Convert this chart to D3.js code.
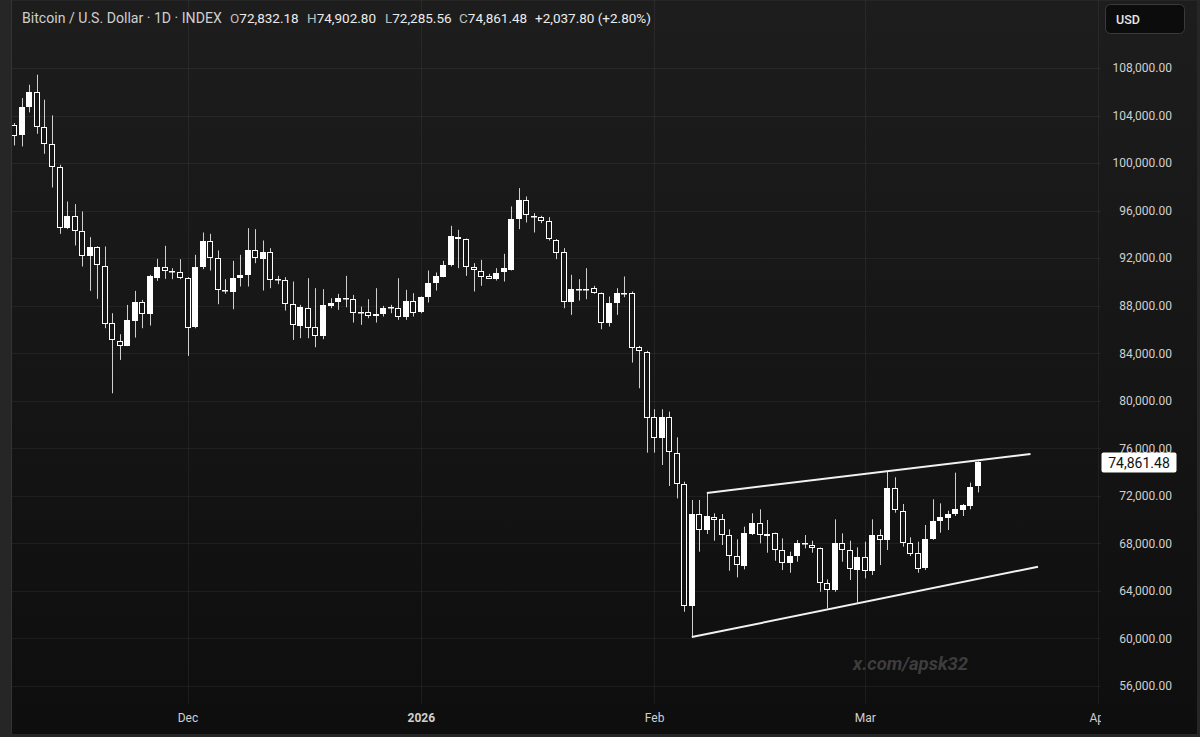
<!DOCTYPE html>
<html>
<head>
<meta charset="utf-8">
<script src="https://cdn.jsdelivr.net/npm/d3@7/dist/d3.min.js"></script>
<style>
  html, body { margin: 0; padding: 0; background: #242424; }
  svg { display: block; }
  text { font-family: Roboto, "Noto Sans", sans-serif; }
</style>
</head>
<body>
<svg id="chart" width="1200" height="737"></svg>
<script>
// ---------------- DATA ----------------
const startDay = "2025-11-08";
const endDay = "2026-03-16";
const opens = [
  103225,102299,104685,105976,103001,101597,99632,94524,95506,94243,92137,92924,91380,86524,85064,84643,86720,88292,87282,90398,91295,90931,90820,
  90371,86188,91241,93402,92000,89276,89192,90315,90539,92645,91915,92504,90175,90175,88153,86301,87789,86188,85459,88013,88265,88600,88574,87450,87507,87142,87283,87800,87844,87086,88405,
  87423,88714,89893,90455,91353,93767,93627,91241,90960,90539,90314,90792,91016,95283,96855,95563,95451,95086,93543,92476,88265,89388,89360,89472,89051,86525,88209,89051,89108,84505,84140,
  78610,76842,78610,75635,72996,62750,70500,69125,70247,70023,68704,66935,66093,68788,69742,68800,68844,67440,66374,66879,68002,67861,67581,64633,64016,68002,67440,65812,
  66879,65700,68703,68282,72633,70752,68058,67215,65896,68338,69826,70107,70472,70808,71145,72832.18
];
const highs = [
  103366,105471,106594,107436,105331,104011,99857,96769,96545,95927,93766,93000,92980,87366,85597,88068,89247,88489,90594,91941,93036,91157,91915,
  90400,92280,94160,94048,92645,90231,91774,92280,94525,94441,93487,92841,90511,90399,90034,88069,90315,89473,89389,88630,88995,90511,88911,87928,88546,89472,87985,88069,90314,89332,89051,
  88770,90960,90792,91774,94721,94385,93650,91578,91858,90680,91157,92364,96349,97893,97192,95788,95563,95451,93600,92841,90595,90230,91157,89669,89108,88770,89472,90455,89193,84617,84200,
  79284,79284,79087,76926,73192,71650,71650,72212,70528,70472,69181,68339,69405,70528,70865,69967,68900,68423,67300,68283,68704,68226,67650,64970,70023,68844,68226,67665,
  68142,70022,69180,74036,73559,71313,68506,68142,69545,71707,71370,70752,73952,71313,73110,74902.80
];
const lows = [
  101485,101401,104264,102467,100783,97948,94047,94450,93064,91295,89247,88573,86103,80629,83436,84600,85317,86103,86327,90089,90257,90231,90231,
  83775,86100,91073,90960,88125,88996,87704,89613,89613,91578,89276,89473,89810,87592,85122,85262,85262,84504,85178,87788,87648,87872,86581,86385,86946,86581,87086,87367,86806,86806,87086,
  87367,88265,89276,90398,91300,91157,90511,89192,89669,90286,90118,90034,90960,94441,95002,94160,94946,93486,91915,87788,87227,88434,88546,89000,86020,86245,87227,88714,83214,81052,75635,
  75635,74596,72828,71789,62245,60100,67300,68788,68226,67861,65700,65139,65812,68704,68002,67216,66542,65756,65531,66458,67581,67216,63931,62528,63931,66458,64914,63005,
  65054,65335,66177,67440,70584,67721,66935,65531,65756,68300,68900,69124,70303,70303,70864,72285.56
];
const closes = [
  102299,104685,105976,103001,101597,99632,94524,95506,94243,92137,92924,91380,86524,85064,84643,86804,88292,87282,90510,91295,90931,90850,90315,
  86188,91241,93402,92000,89276,89350,90371,90595,92645,92000,92504,90175,90250,88153,86385,87873,86104,85459,88069,88265,88630,88650,87367,87400,87142,87311,87788,87870,87086,88405,87423,
  88714,89893,90511,91437,93823,93599,91241,90960,90455,90314,90792,91157,95283,96855,95563,95500,95086,93543,92476,88265,89388,89360,89420,89051,86525,88209,89051,89000,84505,84140,78610,
  76842,78610,75635,72996,62750,70500,69180,70303,70023,68704,66935,66177,68844,69742,68704,68650,67384,66374,66935,68002,67950,67581,64633,64016,68002,67440,65812,66879,
  65700,68703,68282,72633,70752,68058,67159,65896,68338,69882,70191,70472,70864,71201,72773,74861.48
];
const upperTrend = [["2026-02-08", 72240], ["2026-03-23", 75524]];
const lowerTrend = [["2026-02-06", 60116], ["2026-03-24", 66035]];
const priceTicks = [56000,60000,64000,68000,72000,76000,80000,84000,88000,92000,96000,100000,104000,108000];
const timeTicks = ["2025-12-01","2026-01-01","2026-02-01","2026-03-01","2026-04-01"];
const timeTickLabels = ["Dec","2026","Feb","Mar","Apr"];
const lastPrice = 74861.48;
const headerTitle = "Bitcoin / U.S. Dollar · 1D · INDEX";
const headerItems = [["O","72,832.18"],["H","74,902.80"],["L","72,285.56"],["C","74,861.48"],["","+2,037.80 (+2.80%)"]];

// ---------------- BUILD ----------------
const parse = d3.utcParse("%Y-%m-%d");
const days = d3.utcDays(parse(startDay), d3.utcDay.offset(parse(endDay), 1));
const candles = days.map((d, i) => ({date: d, o: opens[i], h: highs[i], l: lows[i], c: closes[i]}));

const W = 1200, H = 737;
const paneL = 11, paneR = 1101, paneB = 704, bottomB = 734;

const x = d3.scaleUtc()
  .domain([parse("2025-12-01"), parse("2026-03-01")])
  .range([187.5, 864.9]);
const y = d3.scaleLinear().domain([56000, 108000]).range([686, 68]);

const svg = d3.select("#chart");
const defs = svg.append("defs");
const grad = defs.append("linearGradient").attr("id","bg").attr("x1",0).attr("y1",0).attr("x2",0).attr("y2",1);
grad.append("stop").attr("offset","0%").attr("stop-color","#1d1d1d");
grad.append("stop").attr("offset","100%").attr("stop-color","#0e0e0e");
defs.append("clipPath").attr("id","pane").append("rect")
  .attr("x", paneL + 1).attr("y", 0).attr("width", paneR - paneL - 1).attr("height", paneB);
defs.append("clipPath").attr("id","xaxisclip").append("rect")
  .attr("x", paneL + 1).attr("y", 0).attr("width", paneR - paneL - 1).attr("height", bottomB - paneB);

// outer frame + background
svg.append("rect").attr("width", W).attr("height", H).attr("fill", "#262626");
svg.append("rect").attr("x", paneL).attr("y", 1).attr("width", W - paneL - 3).attr("height", bottomB - 1)
  .attr("fill", "url(#bg)");
svg.append("line").attr("x1", paneL + 0.5).attr("x2", paneL + 0.5).attr("y1", 0).attr("y2", bottomB)
  .attr("stroke", "#333");

// grid
const grid = svg.append("g").attr("clip-path","url(#pane)");
grid.selectAll(".hg").data(priceTicks).join("line")
  .attr("x1", paneL).attr("x2", paneR)
  .attr("y1", d => Math.round(y(d)) + 0.5).attr("y2", d => Math.round(y(d)) + 0.5)
  .attr("stroke", "rgba(255,255,255,0.055)");
grid.selectAll(".vg").data(timeTicks).join("line")
  .attr("x1", d => Math.round(x(parse(d))) + 0.5).attr("x2", d => Math.round(x(parse(d))) + 0.5)
  .attr("y1", 0).attr("y2", paneB)
  .attr("stroke", "rgba(255,255,255,0.055)");

// watermark
svg.append("text").attr("x", 853).attr("y", 670)
  .attr("font-size", 18.5).attr("font-weight", 700).attr("font-style", "italic")
  .attr("fill", "#3d3d3d").text("x.com/apsk32");

// candles
const cg = svg.append("g").attr("clip-path","url(#pane)");
const g = cg.selectAll("g.c").data(candles).join("g").attr("class","c");
g.append("line")
  .attr("x1", d => Math.round(x(d.date)) + 0.5).attr("x2", d => Math.round(x(d.date)) + 0.5)
  .attr("y1", d => y(d.h)).attr("y2", d => y(d.l))
  .attr("stroke", "#cfcfcf").attr("stroke-width", 1);
g.append("rect")
  .attr("x", d => Math.round(x(d.date)) - 2.5)
  .attr("y", d => Math.round(y(Math.max(d.o, d.c))) + 0.5)
  .attr("width", 5)
  .attr("height", d => Math.max(0.5, Math.round(Math.abs(y(d.o) - y(d.c))) - 1))
  .attr("fill", d => d.c >= d.o ? "#ffffff" : "#151515")
  .attr("stroke", "#ffffff").attr("stroke-width", 1);

// trend lines
const line = d3.line().x(d => x(parse(d[0]))).y(d => y(d[1]));
[upperTrend, lowerTrend].forEach(t => {
  cg.append("path").attr("d", line(t)).attr("fill","none")
    .attr("stroke","#f2f2f2").attr("stroke-width", 2);
});

// header
const hdr = svg.append("g").attr("font-size", 13.5);
hdr.append("text").attr("x", 22).attr("y", 23).attr("font-size", 14.1).attr("fill", "#cfcfcf").text(headerTitle);
const hx = [230, 307, 385, 459, 535];
headerItems.forEach((it, i) => {
  const t = hdr.append("text").attr("x", hx[i]).attr("y", 23);
  if (it[0]) t.append("tspan").attr("fill", "#bdbdbd").text(it[0]);
  t.append("tspan").attr("fill", "#ececec").text(it[1]);
});

// y axis
const yAxis = d3.axisRight(y).tickValues(priceTicks).tickFormat(d3.format(",.2f")).tickSize(0);
const ya = svg.append("g").attr("transform", "translate(1111,0)").call(yAxis);
ya.select(".domain").remove();
ya.selectAll("text").attr("x", 61).attr("text-anchor", "end")
  .attr("font-size", 12).attr("fill", "#d0d0d0").attr("font-family", "Roboto, sans-serif");

// x axis
const xAxis = d3.axisBottom(x).tickValues(timeTicks.map(parse))
  .tickFormat((d, i) => timeTickLabels[i]).tickSize(0);
const xa = svg.append("g").attr("transform", `translate(0,${paneB})`).attr("clip-path","url(#xaxisclip)").call(xAxis);
xa.select(".domain").remove();
xa.selectAll("text").attr("y", 14).attr("dy", "0.32em")
  .attr("font-size", 12).attr("fill", "#d0d0d0").attr("font-family", "Roboto, sans-serif")
  .attr("font-weight", (d, i) => timeTickLabels[i] === "2026" ? 700 : 400);

// last price label
const ly = y(lastPrice);
svg.append("rect").attr("x", 1101.5).attr("y", Math.round(ly) - 9.5).attr("width", 75).attr("height", 20)
  .attr("rx", 2).attr("fill", "#ffffff");
svg.append("text").attr("x", 1139).attr("y", ly + 1).attr("dy", "0.35em").attr("text-anchor", "middle")
  .attr("font-size", 14).attr("fill", "#111").text(d3.format(",.2f")(lastPrice));

// USD badge
svg.append("rect").attr("x", 1105.5).attr("y", 4.5).attr("width", 79).attr("height", 29).attr("rx", 5)
  .attr("fill", "#0c0c0c").attr("stroke", "#3a3a3a");
svg.append("text").attr("x", 1116).attr("y", 23.5).attr("font-size", 12.5).attr("font-weight", 500)
  .attr("fill", "#e6e6e6").text("USD");
</script>
</body>
</html>
